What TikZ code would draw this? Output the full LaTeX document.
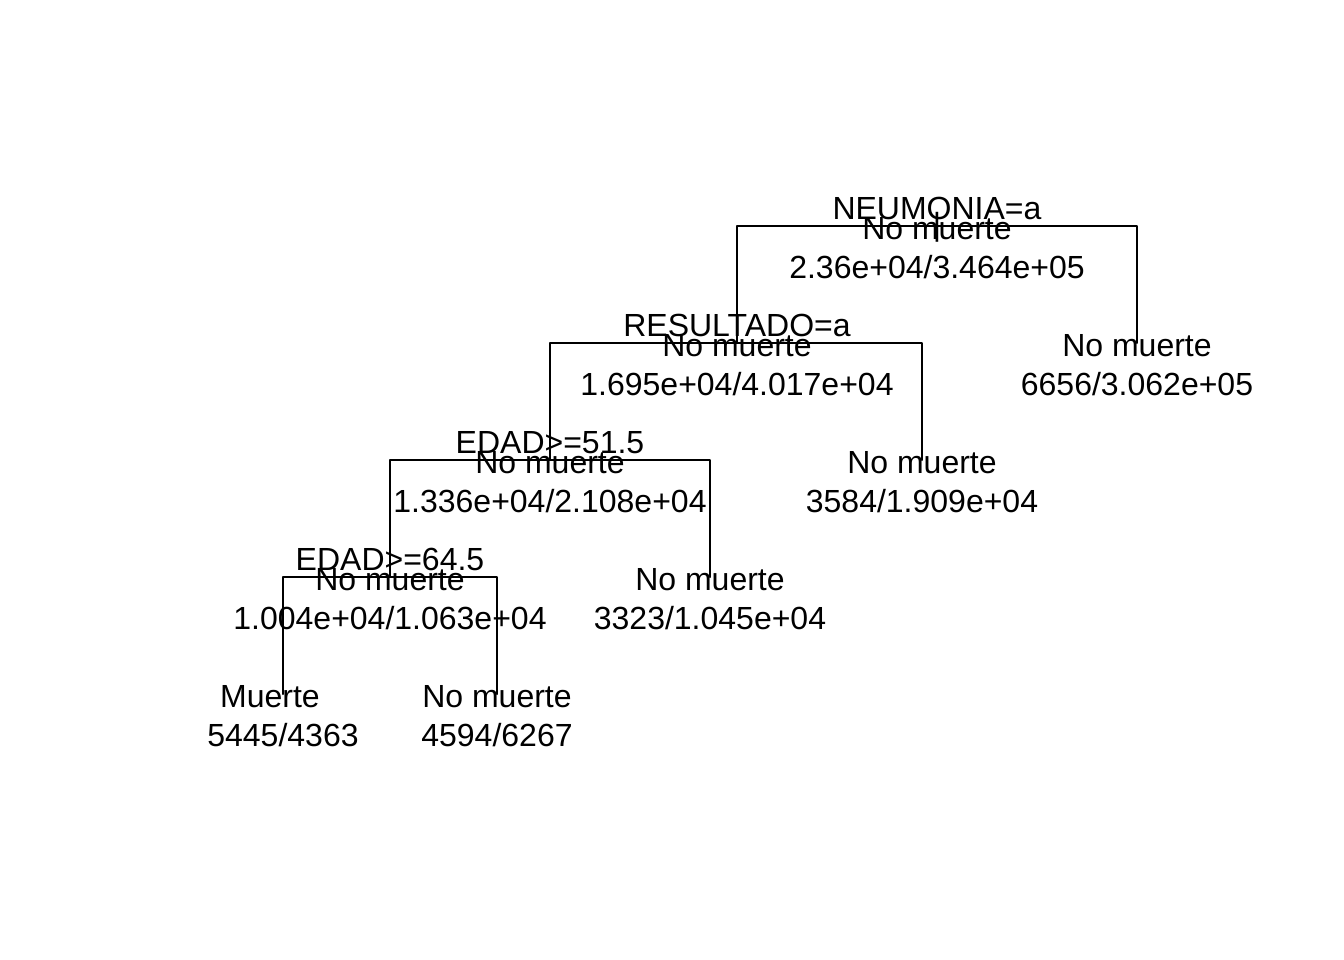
\documentclass[tikz,border=0pt]{standalone}
\usepackage{fontspec}
\setmainfont{Liberation Sans}
\begin{document}
\begin{tikzpicture}[line cap=round,line join=round,x=0.375bp,y=-0.375bp]
		\tikzset{txt/.style={anchor=base,inner sep=0pt,font=\fontsize{12bp}{14bp}\selectfont},
			branch/.style={line width=0.75bp}}
		\useasboundingbox (0,0) rectangle (1344,960);
		% tree nodes
		\coordinate (n1) at (937,226);
		\coordinate (n2) at (737,343);
		\coordinate (n3) at (1137,343);
		\coordinate (n4) at (550,460);
		\coordinate (n5) at (922,460);
		\coordinate (n8) at (390,577);
		\coordinate (n9) at (710,577);
		\coordinate (n16) at (283,694);
		\coordinate (n17) at (497,694);
		% branches
		\draw [branch] (n2) |- (n1) -| (n3);
		\draw [branch] (n4) |- (n2) -| (n5);
		\draw [branch] (n8) |- (n4) -| (n9);
		\draw [branch] (n16) |- (n8) -| (n17);
		% labels
		\node[txt] (n1s) at (937,219.5) {NEUMONIA=a};
		\node[txt] (n1r) at (937,235) {|};
		\node[txt] (n1c) at (937,239.3) {No muerte};
		\node[txt] (n1n) at (937,278) {2.36e+04/3.464e+05};
		\node[txt] (n2s) at (737,336.5) {RESULTADO=a};
		\node[txt] (n2c) at (737,356.3) {No muerte};
		\node[txt] (n2n) at (737,395) {1.695e+04/4.017e+04};
		\node[txt] (n3c) at (1137,356.3) {No muerte};
		\node[txt] (n3n) at (1137,395) {6656/3.062e+05};
		\node[txt] (n4s) at (550,453.5) {EDAD>=51.5};
		\node[txt] (n4c) at (550,473.3) {No muerte};
		\node[txt] (n4n) at (550,512) {1.336e+04/2.108e+04};
		\node[txt] (n5c) at (922,473.3) {No muerte};
		\node[txt] (n5n) at (922,512) {3584/1.909e+04};
		\node[txt] (n8s) at (390,570.5) {EDAD>=64.5};
		\node[txt] (n8c) at (390,590.3) {No muerte};
		\node[txt] (n8n) at (390,629) {1.004e+04/1.063e+04};
		\node[txt] (n9c) at (710,590.3) {No muerte};
		\node[txt] (n9n) at (710,629) {3323/1.045e+04};
		\node[txt] (n16c) at (270,707.3) {Muerte};
		\node[txt] (n16n) at (283,746) {5445/4363};
		\node[txt] (n17c) at (497,707.3) {No muerte};
		\node[txt] (n17n) at (497,746) {4594/6267};
	\end{tikzpicture}
\end{document}
